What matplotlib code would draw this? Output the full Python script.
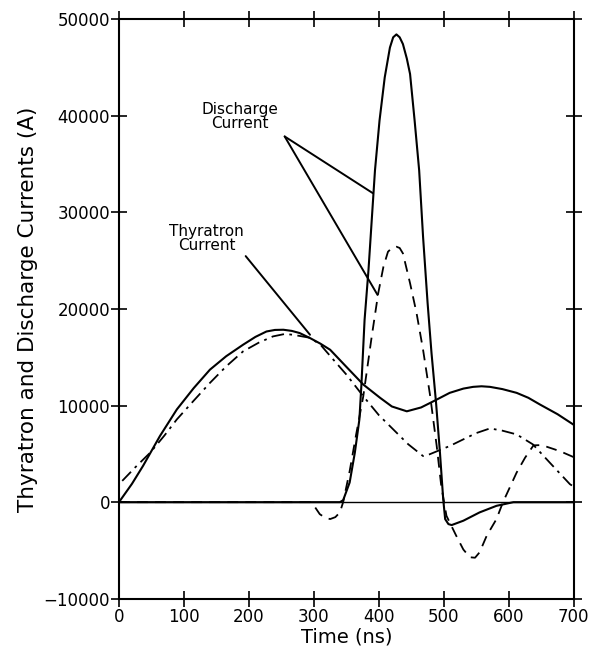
import matplotlib
matplotlib.use("Agg")
import matplotlib.pyplot as plt

# thyratron current, solid
thy_t = [0, 20, 37, 63, 89, 115, 140, 165, 191, 210, 227, 240, 253, 266, 278,
         294, 310, 325, 350, 376, 402, 420, 443, 465, 484, 509, 530, 545, 558,
         571, 590, 612, 630, 648, 675, 700]
thy_i = [0, 1900, 3750, 6840, 9590, 11800, 13710, 15100, 16290, 17100, 17660,
         17820, 17840, 17720, 17500, 16980, 16400, 15770, 14000, 12170, 10790,
         9900, 9400, 9800, 10440, 11310, 11750, 11930, 11990, 11930, 11700,
         11310, 10800, 10100, 9100, 8000]

# thyratron current, dash-dot
thy2_t = [5, 25, 48, 70, 89, 115, 140, 165, 191, 215, 237, 255, 268, 282, 294,
          310, 330, 350, 376, 400, 417, 445, 468, 478, 509, 530, 550, 571, 590,
          612, 637, 663, 694, 700]
thy2_i = [2200, 3600, 5120, 6900, 8560, 10500, 12340, 14050, 15600, 16500,
          17150, 17400, 17320, 17150, 17010, 16300, 14740, 13200, 10960, 9000,
          7870, 6000, 4770, 4950, 5810, 6500, 7150, 7630, 7400, 7010, 5980,
          4090, 1860, 1600]

# discharge current, solid
dis_t = [0, 300, 340, 345, 355, 363, 370, 373, 378, 384, 389, 394, 401, 409,
         417, 422, 427, 432, 437, 443, 448, 455, 462, 468, 475, 481, 488, 494,
         499, 502, 507, 512, 530, 555, 581, 607, 700]
dis_i = [0, 0, 0, 200, 2030, 5120, 8560, 12000, 18870, 24020, 29180, 34330,
         39490, 43950, 47040, 48100, 48400, 48100, 47400, 45900, 44300, 39490,
         34330, 27460, 20590, 15430, 10280, 5120, 310, -1750, -2270, -2370,
         -1920, -1060, -380, 0, 0]

# discharge current, dashed
dis2_t = [0, 294, 300, 309, 317, 325, 333, 340, 345, 355, 365, 376, 389, 399,
          407, 414, 420, 427, 432, 437, 448, 458, 468, 479, 489, 496, 504, 519,
          530, 540, 548, 555, 566, 581, 591, 612, 625, 638, 648, 658, 671, 684,
          696, 700]
dis2_i = [0, 0, -350, -1240, -1600, -1750, -1550, -1060, 0, 3200, 7000, 10960,
          17150, 21620, 24360, 25910, 26300, 26430, 26300, 25740, 22650, 19560,
          15770, 10960, 5810, 1680, -1410, -3470, -4900, -5700, -5750, -5190,
          -3470, -1750, 0, 3060, 4600, 5880, 5900, 5740, 5450, 5120, 4770, 4650]

x_ticks = [0, 100, 200, 300, 400, 500, 600, 700]
y_ticks = [-10000, 0, 10000, 20000, 30000, 40000, 50000]

fig = plt.figure(figsize=(5.94, 6.53), dpi=100)
ax = fig.add_axes([0.2003, 0.083, 0.7657, 0.888])

ax.axhline(0, color="k", lw=1.0)
ax.plot(thy_t, thy_i, color="k", lw=1.5)
ax.plot(thy2_t, thy2_i, color="k", lw=1.3, dashes=(7, 3, 1.5, 3))
ax.plot(dis_t, dis_i, color="k", lw=1.5)
ax.plot(dis2_t, dis2_i, color="k", lw=1.3, dashes=(6, 4))

# annotations with leader lines
lead = dict(arrowstyle="-", color="k", lw=1.4, shrinkA=0, shrinkB=0)
ax.text(186, 39900, "Discharge\nCurrent", ha="center", va="center",
        fontsize=11, linespacing=0.95)
ax.annotate("", xy=(391, 31960), xytext=(255, 37840), arrowprops=lead)
ax.annotate("", xy=(398, 21440), xytext=(255, 37840), arrowprops=lead)
ax.text(135, 27300, "Thyratron\nCurrent", ha="center", va="center",
        fontsize=11, linespacing=0.95)
ax.annotate("", xy=(294, 17320), xytext=(195, 25460), arrowprops=lead)

ax.set_xlim(0, 700)
ax.set_ylim(-10000, 50000)
ax.set_xticks(x_ticks)
ax.set_yticks(y_ticks)
ax.set_xticklabels([str(v) for v in x_ticks])
ax.set_yticklabels([str(v).replace("-", "\u2212") for v in y_ticks])
ax.tick_params(direction="inout", length=11, width=1.2, top=True, right=True,
               labelsize=12, pad=1)
for s in ax.spines.values():
    s.set_linewidth(1.5)

ax.set_xlabel("Time (ns)", fontsize=14, labelpad=1)
ax.set_ylabel("Thyratron and Discharge Currents (A)", fontsize=15.5, labelpad=4)

fig.savefig("out.png", dpi=100)
